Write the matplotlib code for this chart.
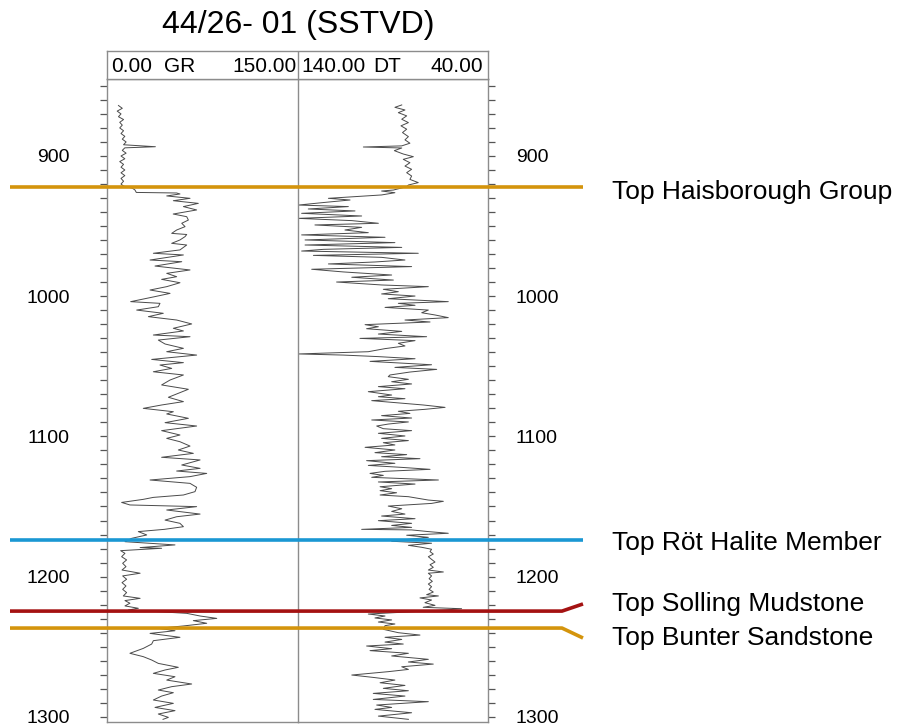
import matplotlib
matplotlib.use("Agg")
import matplotlib.pyplot as plt
import matplotlib.transforms as mtransforms
from matplotlib.ticker import MultipleLocator

plt.rcParams['font.family'] = ['Liberation Sans', 'DejaVu Sans']

title = "44/26- 01 (SSTVD)"

# gamma ray log (API), depth in m
gr_depth = [864, 866, 868, 870, 872, 874, 876, 878, 880, 882, 884, 886, 888, 890, 892, 893.4, 894.2, 896,
            898, 900, 902, 904, 906, 908, 910, 912, 914, 916, 918, 920, 921.5, 923, 924.3, 926, 926.4, 927.1,
            928.5, 930.2, 931.9, 933.8, 936.1, 938.5, 941.4, 943.3, 945.7, 948, 950.4, 952.8, 955.2, 956,
            957.5, 959.9, 962.3, 963.5, 967, 969.4, 970.6, 974.2, 975.4, 978.5, 981.3, 983.7, 986.1, 988,
            990.4, 993.2, 995.6, 998, 1000.3, 1003.9, 1005.1, 1007.5, 1009.9, 1012.2, 1014.6, 1017, 1019.8,
            1022.9, 1024.8, 1027.7, 1028.9, 1031.3, 1034.1, 1037.2, 1039.6, 1042, 1045.1, 1047.4, 1049.1,
            1051.5, 1053.9, 1056.2, 1059.8, 1063.3, 1066.4, 1069.3, 1072.1, 1075.2, 1077.6, 1080, 1082.4,
            1084, 1087.1, 1090.2, 1092.6, 1095.9, 1099, 1101.4, 1103.8, 1106.9, 1109.7, 1112.1, 1114.9,
            1116.8, 1120.4, 1122.8, 1124.7, 1126.4, 1128.7, 1131.1, 1133.5, 1136.3, 1139.4, 1141.8, 1143.5,
            1144.9, 1147.1, 1148.9, 1150.1, 1152.5, 1155.4, 1157.3, 1159.7, 1162, 1164.4, 1166.3, 1167.9,
            1170.3, 1172.7, 1175.1, 1177.4, 1179.3, 1179.8, 1181.5, 1183.4, 1185.8, 1188.1, 1190.5, 1192.9,
            1195.3, 1197.6, 1199.5, 1201.9, 1204.3, 1206.7, 1209.1, 1211.4, 1213.8, 1215.5, 1217.1, 1219,
            1220.9, 1222.6, 1223.8, 1226.2, 1228.1, 1229.8, 1231.4, 1233.3, 1235.2, 1236.9, 1238.6, 1240.5,
            1243.3, 1245.7, 1248.1, 1251.2, 1254.7, 1257.1, 1259.5, 1261.9, 1264.7, 1266.6, 1269, 1271.4,
            1273.8, 1276.6, 1278.5, 1280.9, 1282.8, 1285.2, 1288, 1290.4, 1293.3, 1295.6, 1298, 1300.4, 1301.8]
gr = [9, 12, 8, 11, 9, 13, 10, 12, 10, 13, 11, 14, 12, 15, 13, 38, 14, 12,
      15, 11, 14, 10, 13, 11, 14, 11, 14, 11, 13, 11, 13, 20, 22, 23, 54.7, 57.3,
      46.9, 65.2, 52.1, 71.7, 60, 70.4, 52, 62.6, 63.9, 58.7, 61.3, 54.7, 50.8, 62.6,
      61.3, 57.3, 50.8, 62.6, 57.3, 36.4, 60, 33.8, 58.7, 37.7, 65.2, 46.9, 54.7, 42.9,
      57.3, 46.9, 33.8, 49.5, 37.7, 18.6, 41.6, 40.3, 23.3, 44.2, 32.5, 54.7, 66.5,
      52.1, 60, 36.4, 65.2, 40.3, 45.6, 60, 46.9, 70.4, 35.1, 60, 41.6,
      50.8, 36.4, 60, 49.5, 42.9, 63.9, 56, 48.2, 60, 42.9, 28.5, 52.1,
      46.9, 63.9, 45.6, 70.4, 42.9, 57.3, 46.9, 57.3, 65.2, 56, 67.8, 42.9,
      73.1, 58.7, 73.1, 54.7, 78.3, 65.2, 33.8, 65.2, 70.4, 69.1, 60, 36.4,
      28.5, 11.5, 18, 70.4, 46.9, 73.1, 54.7, 45.6, 57.3, 60, 45, 24.6,
      31.2, 19.4, 14.1, 53.4, 26, 42.9, 10.7, 14.1, 11.5, 15.4, 12.3, 14.9,
      11.8, 26, 12.3, 15.4, 11.8, 14.9, 12.3, 15.4, 12.8, 26, 14.1, 18,
      14.1, 24.6, 16.8, 62.6, 73.1, 86.2, 67.8, 78.3, 60, 40.3, 53.4, 33.8,
      57.3, 36.4, 35.1, 28.5, 18, 28.5, 35.1, 40.3, 56, 45.6, 36.4, 53.4,
      46.9, 66.5, 50.8, 40.3, 52.1, 42.9, 36.4, 52.1, 37.7, 53.4, 40.3, 48.2, 44]

# sonic log (us/ft), depth in m
dt_depth = [863.6, 865.3, 867.2, 869.1, 871.4, 873.8, 876.2, 878.5, 880.9, 883.3, 886.2, 888.5, 890.9,
            892.8, 893.6, 894.3, 896.2, 898.6, 900.5, 902.4, 904.8, 907.2, 909.5, 911.9, 914.3, 916.7, 919,
            920.7, 921.9, 924.3, 925, 926.2, 927.8, 930.2, 931.4, 933.1, 935, 936.1, 937.8, 939.2, 940.9,
            942.8, 944.5, 946.1, 948, 949.2, 950.9, 952.8, 954.7, 956.3, 958, 959.9, 961.8, 963.5, 965.2,
            966.6, 967.8, 969.4, 970.9, 972.3, 974.2, 975.6, 977, 978.9, 980.8, 982.7, 984.9, 986.5, 988.5,
            989.9, 992, 993.2, 995.1, 996.8, 998.4, 999.9, 1001.8, 1003.9, 1005.1, 1006.5, 1008, 1009.9,
            1011.8, 1013.4, 1015.3, 1017, 1018.4, 1020.3, 1021.8, 1023.2, 1025.1, 1027, 1028.9, 1030.1,
            1031.7, 1033.6, 1035.5, 1037.4, 1039.6, 1041.2, 1042, 1043.1, 1044.6, 1046.5, 1048.9, 1050.8,
            1052.2, 1054.1, 1056.2, 1057.4, 1059.3, 1061, 1062.6, 1064.5, 1066, 1068.1, 1070.5, 1071.7,
            1073.1, 1074.5, 1075.9, 1077.6, 1079.3, 1080.7, 1082.1, 1083.6, 1085.2, 1086.9, 1088.3, 1089.7,
            1091.2, 1092.6, 1094.5, 1095.9, 1097.8, 1099.7, 1101.4, 1103, 1104.5, 1106.1, 1107.8, 1109.7,
            1111.6, 1113, 1114.5, 1115.9, 1117.3, 1119.2, 1120.7, 1122.1, 1123.5, 1124.9, 1126.4, 1127.8,
            1129.2, 1131.1, 1132.5, 1134, 1135.9, 1137.3, 1138.7, 1140.2, 1141.8, 1143, 1144.4, 1145.4,
            1146.3, 1147.8, 1149.7, 1151.6, 1153.5, 1155.4, 1156.8, 1158.7, 1160.1, 1162, 1163.5, 1164.9,
            1166.3, 1166.7, 1167.9, 1169.1, 1170.5, 1172, 1173.4, 1174.8, 1176.2, 1177.7, 1179.1, 1180.5,
            1182.2, 1183.9, 1185.8, 1187.7, 1189.6, 1191.5, 1193.4, 1195.3, 1196.7, 1197.6, 1199.5, 1201.5,
            1203.4, 1205.3, 1207.2, 1209.1, 1211, 1212.9, 1213.8, 1215.2, 1216.7, 1218.6, 1220.5, 1221.9,
            1222.9, 1223.8, 1226.7, 1228.1, 1229.5, 1230.9, 1232.4, 1233.8, 1235, 1237.6, 1240, 1241.7,
            1243.3, 1244.8, 1246.7, 1248.1, 1249.5, 1251.4, 1252.8, 1254.7, 1256.6, 1259, 1260.9, 1262.4,
            1264.3, 1266.2, 1267.8, 1270.2, 1271.9, 1273.8, 1275.7, 1277.6, 1279.7, 1281.4, 1283.3, 1285.2,
            1287.6, 1289.2, 1291.6, 1293.3, 1294.7, 1297.1, 1299.5, 1301.8]
dt = [85.4, 89, 83.7, 87.2, 82.8, 85.4, 81.9, 85.8, 82.8, 85, 81.9, 83.7, 81.1,
      85.4, 105.6, 85.4, 89.3, 84.6, 79.3, 84.6, 81.1, 83.7, 80.2, 82.8, 80.2, 81.1, 76.7,
      81.9, 82.8, 89.8, 96, 89, 96, 124, 112.6, 125.8, 139.8, 113.5, 134.6, 110, 138.1,
      106.5, 139.8, 111.7, 97.7, 131.1, 106.5, 115.3, 103, 138.1, 94.2, 136.3, 89, 136.3, 85.4,
      126.7, 138.1, 76.7, 131.9, 96, 83.7, 99.5, 124, 80.2, 132.8, 116.2, 90.7, 111.7, 89.8,
      119.7, 96, 71.4, 95.1, 87.2, 96, 78.4, 92.5, 60.9, 87.2, 78.4, 94.2, 71.4,
      74.9, 67.9, 60.9, 83.7, 70.5, 104.7, 97.7, 103.9, 85.4, 97.7, 72.3, 107.4,
      78.4, 87.2, 83.7, 94.2, 103, 139.8, 116.2, 97.7, 78.4, 102.1, 69.7, 89,
      67, 81.1, 91.6, 92.5, 81.9, 90.7, 80.2, 97.7, 83.7, 103, 90.7, 97.7,
      83.7, 101.2, 89, 74.1, 62.6, 73.2, 87.2, 81.1, 96, 80.2, 101.2, 81.9,
      92.5, 98.6, 95.1, 80.2, 97.7, 83.7, 96, 81.9, 95.1, 89, 104.7, 89,
      99.5, 82.8, 96, 75.8, 103.9, 89, 103, 85.4, 70.5, 94.2, 102.1, 95.1,
      101.2, 66.1, 97.7, 78.4, 96.8, 90.7, 96.8, 88.1, 96.8, 81.9, 75.8, 71.4,
      63.5, 69.7, 92.5, 85.4, 90.7, 83.7, 96, 78.4, 97.7, 80.2, 90.7, 80.2,
      106.5, 80.2, 71.4, 60.9, 82.8, 71.4, 81.9, 90.7, 69.7, 81.9, 74.9, 69.7,
      70.5, 68.8, 71.4, 69.7, 67.9, 70.5, 68.8, 71.4, 63.5, 71.4, 69.7, 71,
      69.3, 71.4, 69.7, 71, 68.8, 72.3, 66.1, 75.8, 69.7, 73.2, 67.9, 74.1,
      53.9, 62.6, 103, 94.2, 99.5, 90.7, 97.7, 89, 94.2, 95.1, 87.2, 75.8,
      94.2, 85.4, 94.2, 84.6, 103.9, 90.7, 102.1, 81.9, 90.7, 71.4, 81.9, 68.8,
      85.4, 81.9, 92.5, 111.7, 100.4, 89, 96.8, 83.7, 95.1, 81.9, 100.4, 83.7,
      100.4, 71.4, 98.6, 90.7, 99.5, 80.2, 97.7, 81.9]

# formation tops
tops_name = ["Top Haisborough Group", "Top Röt Halite Member", "Top Solling Mudstone", "Top Bunter Sandstone"]
tops_depth = [922.1, 1173.9, 1224.6, 1236.7]
tops_label_depth = [925.7, 1176.0, 1219.5, 1243.8]
tops_color = ["#D4940C", "#1A97D3", "#A41212", "#D4940C"]

depth_top, depth_bot = 845.1, 1303.7
W, H = 897, 726

fig = plt.figure(figsize=(W / 100, H / 100), dpi=100)

box_col = "#8c8c8c"
curve_col = "#4a4a4a"

ax_gr = fig.add_axes([107 / W, 1 - 722 / H, 191 / W, (722 - 79) / H])
ax_dt = fig.add_axes([298 / W, 1 - 722 / H, 190 / W, (722 - 79) / H])
ax_hd = fig.add_axes([107 / W, 1 - 79 / H, 381 / W, 28 / H])
ax_dt.set_facecolor('none')

ax_gr.plot(gr, gr_depth, color=curve_col, lw=0.7)
ax_gr.set_xlim(0, 150)
ax_dt.plot(dt, dt_depth, color=curve_col, lw=0.7)
ax_dt.set_xlim(140, 40)

for ax in (ax_gr, ax_dt):
    ax.set_ylim(depth_bot, depth_top)
    ax.set_xticks([])
    for s in ax.spines.values():
        s.set_color(box_col)
        s.set_linewidth(1.0)
    ax.yaxis.set_major_locator(MultipleLocator(100))
    ax.yaxis.set_minor_locator(MultipleLocator(10))

ax_gr.tick_params(axis='y', which='both', direction='out', length=5, width=0.9, color="#555555",
                  labelsize=14, pad=22)
ax_dt.yaxis.tick_right()
ax_dt.tick_params(axis='y', which='both', direction='out', length=5, width=0.9, color="#555555",
                  labelsize=14, pad=15, left=False, labelleft=False)
ax_gr.spines['right'].set_visible(False)

ax_hd.set_xlim(0, 1)
ax_hd.set_ylim(0, 1)
ax_hd.set_xticks([])
ax_hd.set_yticks([])
for s in ax_hd.spines.values():
    s.set_color(box_col)
    s.set_linewidth(1.0)
gx = 191 / 381
ax_hd.axvline(gx, color=box_col, lw=1.0)
hfs = 15
ax_hd.text(0.012, 0.45, "0.00", ha='left', va='center', fontsize=hfs)
ax_hd.text(0.19, 0.45, "GR", ha='center', va='center', fontsize=hfs)
ax_hd.text(gx - 0.004, 0.45, "150.00", ha='right', va='center', fontsize=hfs)
ax_hd.text(gx + 0.008, 0.45, "140.00", ha='left', va='center', fontsize=hfs)
ax_hd.text(0.736, 0.45, "DT", ha='center', va='center', fontsize=hfs)
ax_hd.text(0.988, 0.45, "40.00", ha='right', va='center', fontsize=hfs)

fig.text(298 / W, 1 - 25 / H, title, ha='center', va='center', fontsize=23)

# horizons across the whole figure
tr = mtransforms.blended_transform_factory(fig.transFigure, ax_gr.transData)
x0, x1, x2 = 10 / W, 562 / W, 583 / W
for name, d, dl, c in zip(tops_name, tops_depth, tops_label_depth, tops_color):
    line = plt.Line2D([x0, x1, x2], [d, d, dl if abs(dl - d) > 4 else d], transform=tr,
                      color=c, lw=2.6, clip_on=False, solid_capstyle='butt')
    fig.add_artist(line)
    fig.text(612 / W, dl, name, transform=tr, ha='left', va='center', fontsize=19)

fig.savefig("out.png", dpi=100)
